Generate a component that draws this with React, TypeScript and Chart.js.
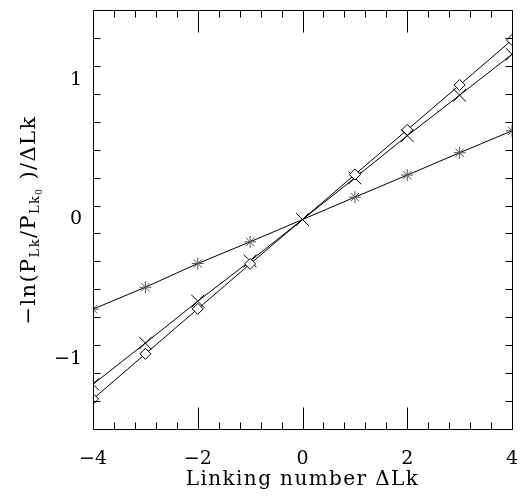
import React, { useEffect, useRef } from 'react';
import { Chart, registerables } from 'chart.js';

Chart.register(...registerables);

const linkingNumbers = [-4, -3, -2, -1, 0, 1, 2, 3, 4];
const diamondSeries = [-1.285, -0.962, -0.64, -0.318, 0, 0.322, 0.642, 0.963, 1.285];
const crossSeries = [-1.18, -0.885, -0.585, -0.297, 0, 0.298, 0.6, 0.89, 1.183];
const starSeries = [-0.642, -0.485, -0.315, -0.16, 0, 0.16, 0.318, 0.478, 0.635];
const xTickValues = [-4, -2, 0, 2, 4];
const yTickValues = [-1, 0, 1];
const xRange = [-4, 4];
const yRange = [-1.5, 1.5];
const xMinorStep = 0.4;
const yMinorStep = 0.2;
const xTitle = 'Linking number ΔLk';

const FONT = '"DejaVu Serif", "Liberation Serif", serif';

const fmt = (v: number) => (v < 0 ? '\u2212' + Math.abs(v) : String(v));

const framePlugin = {
  id: 'frameTicks',
  afterDraw(chart: any) {
    const ctx = chart.ctx as CanvasRenderingContext2D;
    const { left, right, top, bottom } = chart.chartArea;
    const xs = chart.scales.x;
    const ys = chart.scales.y;
    const L = Math.round(left) + 0.5;
    const R = Math.round(right) + 0.5;
    const T = Math.round(top) + 0.5;
    const B = Math.round(bottom) + 0.5;
    ctx.save();
    ctx.strokeStyle = '#000';
    ctx.lineWidth = 1;
    ctx.beginPath();
    ctx.rect(L, T, R - L, B - T);
    ctx.stroke();
    const major = 22;
    const minor = 7;
    ctx.beginPath();
    const nx = Math.round((xRange[1] - xRange[0]) / xMinorStep);
    for (let i = 0; i <= nx; i++) {
      const v = xRange[0] + i * xMinorStep;
      const isMajor = xTickValues.some((t) => Math.abs(t - v) < 1e-6);
      const len = isMajor ? major : minor;
      const px = Math.round(xs.getPixelForValue(v)) + 0.5;
      ctx.moveTo(px, B);
      ctx.lineTo(px, B - len);
      ctx.moveTo(px, T);
      ctx.lineTo(px, T + len);
    }
    const ny = Math.round((yRange[1] - yRange[0]) / yMinorStep);
    for (let i = 0; i <= ny; i++) {
      const v = yRange[0] + i * yMinorStep;
      const isMajor = yTickValues.some((t) => Math.abs(t - v) < 1e-6);
      const len = isMajor ? major : minor;
      const py = Math.round(ys.getPixelForValue(v)) + 0.5;
      ctx.moveTo(L, py);
      ctx.lineTo(L + len, py);
      ctx.moveTo(R, py);
      ctx.lineTo(R - len, py);
    }
    ctx.stroke();

    // x title
    ctx.fillStyle = '#000';
    (ctx as any).letterSpacing = '1.4px';
    ctx.font = `20px ${FONT}`;
    ctx.textAlign = 'center';
    ctx.textBaseline = 'alphabetic';
    ctx.fillText(xTitle, (left + right) / 2, 484.5);

    // y title with subscripts
    const segs: { t: string; size: number; dy: number }[] = [
      { t: '\u2212ln(P', size: 21, dy: 0 },
      { t: 'Lk', size: 13, dy: 4 },
      { t: '/P', size: 21, dy: 0 },
      { t: 'Lk', size: 13, dy: 4 },
      { t: '0', size: 9, dy: 7 },
      { t: ' )/ΔLk', size: 21, dy: 0 },
    ];
    let total = 0;
    const widths = segs.map((s) => {
      ctx.font = `${s.size}px ${FONT}`;
      const w = ctx.measureText(s.t).width;
      total += w;
      return w;
    });
    ctx.translate(35, 220);
    ctx.rotate(-Math.PI / 2);
    ctx.textAlign = 'left';
    let cx = -total / 2;
    segs.forEach((s, i) => {
      ctx.font = `${s.size}px ${FONT}`;
      ctx.fillText(s.t, cx, s.dy);
      cx += widths[i];
    });
    ctx.restore();
  },
};

export default function App() {
  const ref = useRef<HTMLCanvasElement>(null);
  useEffect(() => {
    document.body.style.margin = '0';
    const mk = (ys: number[]) => linkingNumbers.map((x, i) => ({ x, y: ys[i] }));
    const chart = new Chart(ref.current!, {
      type: 'scatter',
      data: {
        datasets: [
          {
            data: mk(diamondSeries),
            showLine: true,
            borderColor: '#000',
            borderWidth: 1,
            pointStyle: 'rectRot',
            pointRadius: linkingNumbers.map((x) => (x === 0 ? 0 : 5.5)),
            pointBackgroundColor: '#fff',
            pointBorderColor: '#000',
            pointBorderWidth: 1,
          },
          {
            data: mk(crossSeries),
            showLine: true,
            borderColor: '#000',
            borderWidth: 1,
            pointStyle: 'crossRot',
            pointRadius: 9,
            pointBorderColor: '#000',
            pointBorderWidth: 1,
          },
          {
            data: mk(starSeries),
            showLine: true,
            borderColor: '#000',
            borderWidth: 1,
            pointStyle: 'star',
            pointRadius: linkingNumbers.map((x) => (x === 0 ? 0 : 6)),
            pointBorderColor: '#555',
            pointBorderWidth: 1,
          },
        ],
      },
      options: {
        responsive: false,
        animation: false,
        layout: { padding: { left: 0, right: 19, top: 3, bottom: 0 } },
        plugins: { legend: { display: false }, tooltip: { enabled: false } },
        scales: {
          x: {
            type: 'linear',
            min: xRange[0],
            max: xRange[1],
            grid: { display: false, drawTicks: false },
            border: { display: false },
            afterFit: (s: any) => {
              s.height = 70;
              s.paddingLeft = 0;
              s.paddingRight = 0;
            },
            afterBuildTicks: (s: any) => {
              s.ticks = xTickValues.map((value) => ({ value }));
            },
            ticks: {
              padding: 19,
              color: '#000',
              font: { family: FONT, size: 19 },
              maxRotation: 0,
              callback: (v: any) => fmt(Number(v)),
            },
          },
          y: {
            type: 'linear',
            min: yRange[0],
            max: yRange[1],
            grid: { display: false, drawTicks: false },
            border: { display: false },
            afterFit: (s: any) => {
              s.width = 93;
              s.paddingTop = 0;
              s.paddingBottom = 0;
            },
            afterBuildTicks: (s: any) => {
              s.ticks = yTickValues.map((value) => ({ value }));
            },
            ticks: {
              padding: 11,
              color: '#000',
              font: { family: FONT, size: 19 },
              callback: (v: any) => fmt(Number(v)),
            },
          },
        },
      },
      plugins: [framePlugin],
    });
    return () => chart.destroy();
  }, []);
  return (
    <div style={{ position: 'absolute', left: 0, top: 0 }}>
      <canvas ref={ref} width={531} height={499} style={{ display: 'block' }} />
    </div>
  );
}
